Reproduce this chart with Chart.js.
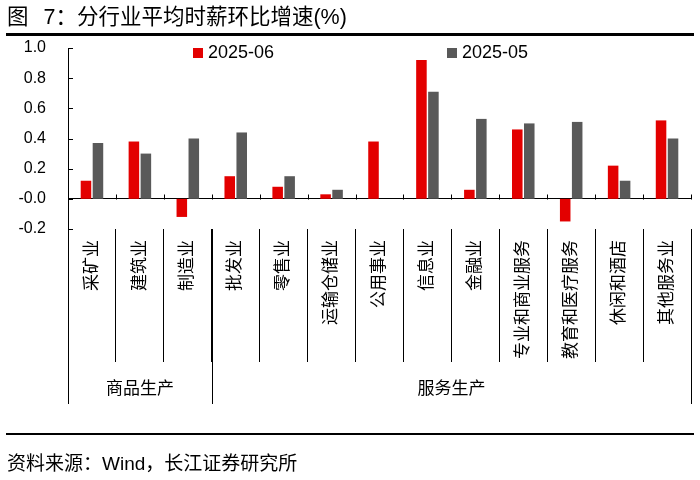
<!DOCTYPE html>
<html>
<head>
<meta charset="utf-8">
<script src="https://cdn.jsdelivr.net/npm/chart.js@4.4.1/dist/chart.umd.min.js"></script>
<style>
body { margin: 0; background: #fff; }
#wrap { position: relative; width: 700px; height: 480px; font-family: "Liberation Sans", "Noto Sans CJK SC", sans-serif; color: #000; }
#title { position: absolute; left: 7px; top: 3px; font-size: 21.5px; line-height: 28px; word-spacing: 9px; white-space: nowrap; }
#topLine { position: absolute; left: 6px; top: 33px; width: 688px; height: 3px; background: #000; }
#bottomLine { position: absolute; left: 6px; top: 433px; width: 688px; height: 2px; background: #000; }
#source { position: absolute; left: 7px; top: 452px; font-size: 19px; line-height: 24px; white-space: nowrap; }
canvas { position: absolute; left: 0; top: 0; }
</style>
</head>
<body>
<div id="wrap">
  <canvas id="myChart" width="700" height="480"></canvas>
  <div id="title">图 7：分行业平均时薪环比增速(%)</div>
  <div id="topLine"></div>
  <div id="bottomLine"></div>
  <div id="source">资料来源：Wind，长江证券研究所</div>
</div>
<script>
// Categories
const categories = ['采矿业', '建筑业', '制造业', '批发业', '零售业', '运输仓储业', '公用事业',
    '信息业', '金融业', '专业和商业服务', '教育和医疗服务', '休闲和酒店', '其他服务业'];

// Groups of categories (name + how many categories it spans)
const groupNames = ['商品生产', '服务生产'];
const groupSizes = [3, 10];

// Series
const seriesNames = ['2025-06', '2025-05'];
const june = [0.12, 0.38, -0.12, 0.15, 0.08, 0.03, 0.38, 0.92, 0.06, 0.46, -0.15, 0.22, 0.52];
const may = [0.37, 0.30, 0.40, 0.44, 0.15, 0.06, null, 0.71, 0.53, 0.50, 0.51, 0.12, 0.40];

// Y axis
const yMin = -0.2;
const yMax = 1.0;
const yStep = 0.2;

const FONT = '"Liberation Sans", "Noto Sans CJK SC", sans-serif';
Chart.defaults.font.family = FONT;
Chart.defaults.color = '#000';

// Extra drawing: inner ticks, zero-line ticks, group separators, legend
const decorPlugin = {
    id: 'decor',
    afterDraw(chart) {
        const ctx = chart.ctx;
        const x = chart.scales.x;
        const y = chart.scales.y;
        const w = (x.right - x.left) / categories.length;
        ctx.save();
        ctx.strokeStyle = '#000';
        ctx.lineWidth = 1;

        // y ticks pointing inward
        y.ticks.forEach(function(t) {
            const py = Math.round(y.getPixelForValue(t.value)) + 0.5;
            ctx.beginPath();
            ctx.moveTo(x.left, py);
            ctx.lineTo(x.left + 5, py);
            ctx.stroke();
        });

        // ticks on the zero line at category boundaries
        const zy = Math.round(y.getPixelForValue(0)) + 0.5;
        for (let k = 0; k <= categories.length; k++) {
            const px = Math.round(x.left + k * w) + 0.5;
            ctx.beginPath();
            ctx.moveTo(px, zy);
            ctx.lineTo(px, zy - 5);
            ctx.stroke();
        }

        // group separators and names
        const bottom = chart.chartArea.bottom;
        ctx.font = '17px ' + FONT;
        ctx.fillStyle = '#000';
        ctx.textAlign = 'center';
        ctx.textBaseline = 'middle';
        let start = 0;
        const edges = [0];
        groupSizes.forEach(function(n, i) {
            const x0 = x.left + start * w;
            const x1 = x.left + (start + n) * w;
            ctx.fillText(groupNames[i], (x0 + x1) / 2, bottom + 160);
            start += n;
            edges.push(start);
        });
        edges.forEach(function(k) {
            const px = Math.round(x.left + k * w) + 0.5;
            ctx.beginPath();
            ctx.moveTo(px, bottom);
            ctx.lineTo(px, bottom + 175);
            ctx.stroke();
        });

        // legend inside the plot area
        const legendX = [193, 447];
        ctx.font = '18px ' + FONT;
        ctx.textAlign = 'left';
        chart.data.datasets.forEach(function(ds, i) {
            ctx.fillStyle = ds.backgroundColor;
            ctx.fillRect(legendX[i], 48, 10, 10);
            ctx.fillStyle = '#000';
            ctx.fillText(ds.label, legendX[i] + 15, 53);
        });
        ctx.restore();
    }
};

const data = {
    labels: categories,
    datasets: [{
        label: seriesNames[0],
        data: june,
        backgroundColor: '#E30000',
        categoryPercentage: 0.5,
        barPercentage: 0.88
    }, {
        label: seriesNames[1],
        data: may,
        backgroundColor: '#595959',
        categoryPercentage: 0.5,
        barPercentage: 0.88
    }]
};

const config = {
    type: 'bar',
    data: data,
    options: {
        responsive: false,
        animation: false,
        layout: {
            padding: { left: 0, right: 9, top: 48, bottom: 0 }
        },
        plugins: {
            legend: { display: false },
            title: { display: false },
            tooltip: { enabled: false }
        },
        scales: {
            x: {
                border: { display: false },
                grid: {
                    offset: true,
                    drawOnChartArea: false,
                    drawTicks: true,
                    tickLength: 133,
                    color: '#000',
                    lineWidth: 1
                },
                ticks: {
                    autoSkip: false,
                    minRotation: 90,
                    maxRotation: 90,
                    padding: -122,
                    font: { size: 17 },
                    color: '#000'
                },
                afterFit: function(scale) { scale.height = 251; }
            },
            y: {
                min: yMin,
                max: yMax,
                border: { display: true, color: '#000', width: 1 },
                grid: {
                    drawTicks: false,
                    color: function(c) { return c.tick && Math.abs(c.tick.value) < 1e-9 ? '#000' : 'rgba(0,0,0,0)'; }
                },
                ticks: {
                    stepSize: yStep,
                    padding: 22,
                    font: { size: 16 },
                    color: '#000',
                    callback: function(v) { return Number(v).toFixed(1); }
                },
                afterFit: function(scale) { scale.width = 68; }
            }
        }
    },
    plugins: [decorPlugin]
};

const chart = new Chart(document.getElementById('myChart'), config);
</script>
</body>
</html>
